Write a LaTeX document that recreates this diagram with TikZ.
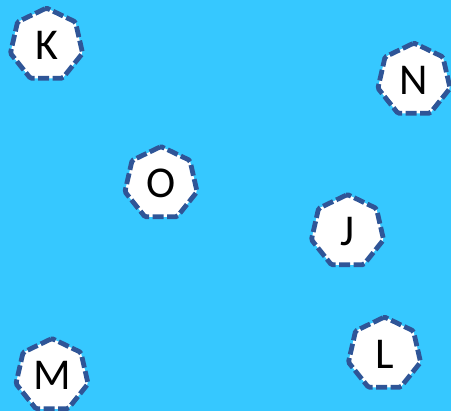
\documentclass[tikz,border=0pt]{standalone}
\usepackage{fontspec}
\setmainfont{Carlito}
\usetikzlibrary{shapes.geometric}
\definecolor{skyback}{HTML}{36C8FF}
\definecolor{heptline}{HTML}{2F5597}
\tikzset{
  hept/.style={regular polygon, regular polygon sides=7, minimum size=74pt,
    inner sep=0pt, fill=white, draw=heptline, line width=4.8pt,
    dash pattern=on 11pt off 3.5pt, rounded corners=1.5pt,
    font=\fontsize{44}{50}\selectfont}
}
\begin{document}
\begin{tikzpicture}[x=1pt,y=1pt]
\fill[skyback] (0,0) rectangle (451,-411);
\useasboundingbox (0,0) rectangle (451,-411);
\node[hept] (K) at (46.5,-45) {K};
\node[hept] (N) at (414,-80) {N};
\node[hept] (O) at (161,-183.5) {O};
\node[hept] (J) at (347.5,-231.5) {J};
\node[hept] (M) at (52,-375.5) {M};
\node[hept] (L) at (384.5,-354) {L};
\end{tikzpicture}
\end{document}
